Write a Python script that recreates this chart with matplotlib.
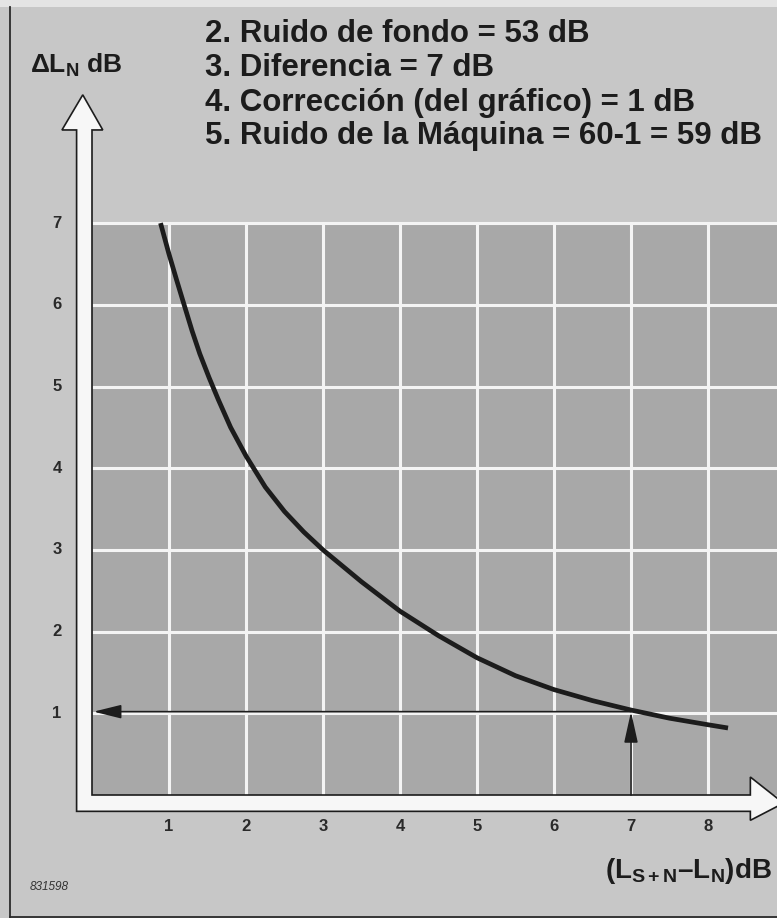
import numpy as np
import matplotlib
matplotlib.use('Agg')
from matplotlib import pyplot as plt
from matplotlib.patches import Polygon, Rectangle

# values
x_ticks = [1, 2, 3, 4, 5, 6, 7, 8]
y_ticks = [1, 2, 3, 4, 5, 6, 7]
curve_x = [0.89, 1.0, 1.1, 1.19, 1.3, 1.4, 1.52, 1.64, 1.8, 2.0, 2.25, 2.5,
           2.75, 3.0, 3.5, 4.0, 4.5, 5.0, 5.5, 6.0, 6.5, 7.0, 7.5, 8.0, 8.26]
curve_y = [7.0, 6.62, 6.3, 6.02, 5.68, 5.40, 5.11, 4.84, 4.5, 4.15, 3.77, 3.47,
           3.22, 3.0, 2.61, 2.25, 1.95, 1.68, 1.46, 1.29, 1.155, 1.04, 0.94, 0.86, 0.82]
read_x = 7
read_y = 1.02
lines = ['2. Ruido de fondo = 53 dB',
         '3. Diferencia = 7 dB',
         '4. Corrección (del gráfico) = 1 dB',
         '5. Ruido de la Máquina = 60-1 = 59 dB']
line_baselines = [42, 76, 111, 144]  # pixel rows from the top

W, H = 777, 918
x0_px, y0_px = 92, 795
px_x, px_y = 77.0, 81.7

plt.rcParams['font.family'] = ['Liberation Sans', 'DejaVu Sans']
plt.rcParams['mathtext.fontset'] = 'custom'
plt.rcParams['mathtext.rm'] = 'Liberation Sans:bold'
plt.rcParams['mathtext.it'] = 'Liberation Sans:bold'
plt.rcParams['mathtext.bf'] = 'Liberation Sans:bold'

ink = '#1c1c1c'
fig = plt.figure(figsize=(W / 100, H / 100), dpi=100, facecolor='#c7c7c7')
ax = fig.add_axes([0, 0, 1, 1])
ax.set_xlim(-x0_px / px_x, (W - x0_px) / px_x)
ax.set_ylim(-(H - y0_px) / px_y, y0_px / px_y)
ax.axis('off')

# paper edges
fig.add_artist(Rectangle((0, 1 - 7 / H), 1, 7 / H, transform=fig.transFigure,
                         facecolor='#e4e4e4', edgecolor='none'))
fig.add_artist(plt.Line2D([10 / W, 10 / W], [0, 1 - 7 / H], transform=fig.transFigure,
                          color='#2a2a2a', lw=1.3))
fig.add_artist(plt.Line2D([10 / W, 1], [1.5 / H, 1.5 / H], transform=fig.transFigure,
                          color='#2a2a2a', lw=1.3))

# grid field
ax.add_patch(Rectangle((0, 0), 10, max(y_ticks), facecolor='#a8a8a8',
                       edgecolor='none', zorder=1))
ax.vlines(x_ticks, 0, max(y_ticks), color='#f4f4f4', lw=2.2, zorder=2)
ax.hlines(y_ticks, 0, 10, color='#f4f4f4', lw=2.2, zorder=2)

# curve
ax.plot(curve_x, curve_y, color=ink, lw=3.4, solid_capstyle='butt',
        solid_joinstyle='round', zorder=4)

# hollow axis arrows
s = 0.2
L = [(0, 0), (0, 8.14), (0.14, 8.14), (-0.12, 8.57), (-0.39, 8.14), (-s, 8.14),
     (-s, -s), (8.55, -s), (8.55, -0.31), (8.98, -0.1), (8.55, 0.22), (8.55, 0)]
ax.add_patch(Polygon(L, closed=True, facecolor='#f7f7f7', edgecolor=ink,
                     lw=1.2, joinstyle='miter', zorder=3))

# reading arrows
ax.annotate('', xy=(0.02, read_y), xytext=(read_x, read_y),
            arrowprops=dict(arrowstyle='-|>,head_length=1.7,head_width=0.42',
                            color=ink, lw=1.2, shrinkA=0, shrinkB=0), zorder=5)
ax.annotate('', xy=(read_x, read_y), xytext=(read_x, 0),
            arrowprops=dict(arrowstyle='-|>,head_length=1.9,head_width=0.42',
                            color=ink, lw=1.2, shrinkA=0, shrinkB=0), zorder=5)

# tick labels
for v in y_ticks:
    ax.text(-0.455, v, str(v), ha='center', va='center', fontsize=12,
            fontweight='bold', color='#2a2a2a')
for v in x_ticks:
    ax.text(v, -0.39, str(v), ha='center', va='center', fontsize=12,
            fontweight='bold', color='#2a2a2a')

# texts
for t, b in zip(lines, line_baselines):
    fig.text(205 / W, 1 - b / H, t, ha='left', va='baseline', fontsize=22.5,
             fontweight='bold', color=ink)
fig.text(30 / W, 1 - 73 / H, 'ΔL$_\\mathrm{N}$ dB', ha='left', va='baseline',
         fontsize=19, fontweight='bold', color=ink)
fig.text(772 / W, 1 - 878 / H, '(L$_\\mathrm{S+N}$–L$_\\mathrm{N}$)dB', ha='right',
         va='baseline', fontsize=20, fontweight='bold', color=ink)
fig.text(30 / W, 1 - 890 / H, '831598', ha='left', va='baseline', fontsize=8.5,
         fontstyle='italic', color='#333333')

fig.savefig('out.png', dpi=100, facecolor=fig.get_facecolor())
